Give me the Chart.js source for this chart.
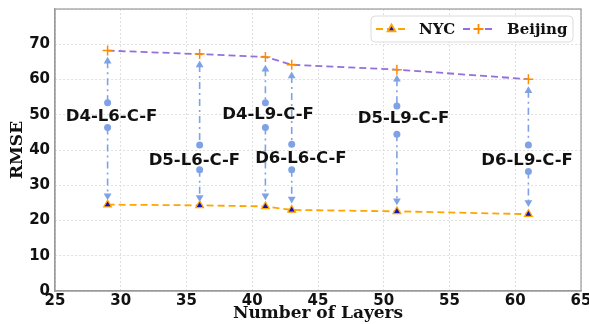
<!DOCTYPE html>
<html>
<head>
<meta charset="utf-8">
<script src="https://cdn.jsdelivr.net/npm/chart.js@4/dist/chart.umd.min.js"></script>
<style>
  html, body { margin: 0; padding: 0; background: #fff; }
  #wrap { width: 589px; height: 324px; }
</style>
</head>
<body>
<div id="wrap"><canvas id="chart"></canvas></div>
<script>
// layer counts on the x axis
const layers = [29, 36, 41, 43, 51, 61]
const nycRmse = [24.5, 24.3, 24.0, 23.0, 22.6, 21.8]
const beijingRmse = [68.2, 67.2, 66.4, 64.2, 62.8, 60.1]

// model annotations, one per layer count
const annotLabels = ['D4-L6-C-F', 'D5-L6-C-F', 'D4-L9-C-F', 'D6-L6-C-F', 'D5-L9-C-F', 'D6-L9-C-F']
const labelX = [29.3, 35.6, 41.2, 43.7, 51.5, 60.9]
const labelY = [49.4, 37.1, 49.9, 37.6, 48.9, 37.1]
const arrowTop = [65.2, 64.1, 62.9, 61.0, 60.1, 56.8]
const circleTop = [53.4, 41.4, 53.4, 41.6, 52.5, 41.4]
const circleBottom = [46.4, 34.4, 46.4, 34.4, 44.5, 33.9]
const arrowBottom = [27.0, 26.5, 27.0, 26.1, 25.6, 25.1]

const xTicks = [25, 30, 35, 40, 45, 50, 55, 60, 65]
const yTicks = [0, 10, 20, 30, 40, 50, 60, 70]

const annotColor = '#7fa2e6'
const frameColor = '#9a9a9a'

const annotSets = annotLabels.map((name, i) => ({
    label: name,
    data: [
        {x: layers[i], y: arrowTop[i]},
        {x: layers[i], y: circleTop[i]},
        {x: layers[i], y: null},
        {x: layers[i], y: circleBottom[i]},
        {x: layers[i], y: arrowBottom[i]}
    ],
    borderColor: annotColor,
    backgroundColor: annotColor,
    borderWidth: 1.6,
    borderDash: [7, 4, 2, 4],
    pointStyle: ['triangle', 'circle', 'circle', 'circle', 'triangle'],
    rotation: [0, 0, 0, 0, 180],
    pointRadius: [4.5, 3.5, 0, 3.5, 4.5],
    pointBorderWidth: 0,
    spanGaps: false,
    order: 2
}))

const datasets = [
    {
        label: 'NYC',
        data: layers.map((x, i) => ({x: x, y: nycRmse[i]})),
        borderColor: '#ffa500',
        borderWidth: 1.8,
        borderDash: [7, 4],
        pointStyle: 'triangle',
        pointRadius: 4.5,
        pointBackgroundColor: '#1010c8',
        pointBorderColor: '#ffa500',
        pointBorderWidth: 1.2,
        order: 0
    },
    {
        label: 'Beijing',
        data: layers.map((x, i) => ({x: x, y: beijingRmse[i]})),
        borderColor: '#9370db',
        borderWidth: 1.8,
        borderDash: [7, 4],
        pointStyle: 'cross',
        pointRadius: 5,
        pointBorderColor: '#ff8c00',
        pointBorderWidth: 1.5,
        order: 0
    }
].concat(annotSets)

const extrasPlugin = {
    id: 'extras',
    afterDatasetsDraw(chart) {
        const ctx = chart.ctx
        const xs = chart.scales.x, ys = chart.scales.y
        ctx.save()
        ctx.font = 'bold 16.5px "DejaVu Sans"'
        ctx.fillStyle = '#111'
        ctx.textAlign = 'center'
        ctx.textBaseline = 'middle'
        annotLabels.forEach((t, i) => {
            ctx.fillText(t, xs.getPixelForValue(labelX[i]), ys.getPixelForValue(labelY[i]))
        })
        ctx.restore()
    },
    afterDraw(chart) {
        const ctx = chart.ctx
        const a = chart.chartArea
        ctx.save()
        ctx.strokeStyle = frameColor
        ctx.lineWidth = 1.2
        ctx.strokeRect(a.left, a.top, a.right - a.left, a.bottom - a.top)

        // legend box
        const bx = 371, by = 16, bw = 202, bh = 26
        ctx.fillStyle = 'rgba(255,255,255,0.85)'
        ctx.strokeStyle = '#dcdcdc'
        ctx.lineWidth = 1
        ctx.beginPath()
        ctx.roundRect(bx, by, bw, bh, 4)
        ctx.fill()
        ctx.stroke()

        const items = [
            {ds: chart.data.datasets[0], x0: 376, tx: 419},
            {ds: chart.data.datasets[1], x0: 463, tx: 507}
        ]
        const cy = by + bh / 2
        items.forEach(it => {
            ctx.save()
            ctx.strokeStyle = it.ds.borderColor
            ctx.lineWidth = it.ds.borderWidth
            ctx.setLineDash([7, 4])
            ctx.beginPath()
            ctx.moveTo(it.x0, cy)
            ctx.lineTo(it.x0 + 31, cy)
            ctx.stroke()
            ctx.setLineDash([])
            ctx.fillStyle = it.ds.pointBackgroundColor || it.ds.pointBorderColor
            ctx.strokeStyle = it.ds.pointBorderColor
            Chart.helpers.drawPoint(ctx, {
                pointStyle: it.ds.pointStyle,
                radius: it.ds.pointRadius,
                rotation: 0,
                borderWidth: it.ds.pointBorderWidth
            }, it.x0 + 15.5, cy)
            ctx.restore()
            ctx.fillStyle = '#111'
            ctx.font = 'bold 15px "DejaVu Serif"'
            ctx.textBaseline = 'middle'
            ctx.textAlign = 'left'
            ctx.fillText(it.ds.label, it.tx, cy + 1)
        })
        ctx.restore()
    }
}

new Chart(document.getElementById('chart'), {
    type: 'line',
    data: {datasets: datasets},
    options: {
        responsive: true,
        maintainAspectRatio: false,
        animation: false,
        layout: {padding: {top: 9, right: 8, left: 0, bottom: 0}},
        plugins: {
            legend: {display: false},
            tooltip: {enabled: false}
        },
        scales: {
            x: {
                type: 'linear',
                min: 25,
                max: 65,
                afterBuildTicks: s => { s.ticks = xTicks.map(v => ({value: v})) },
                afterFit: s => { s.height = 33; s.paddingLeft = 0; s.paddingRight = 0 },
                grid: {color: '#dedede', lineWidth: 1, drawTicks: false},
                border: {color: frameColor, width: 1.2, dash: [2, 2]},
                ticks: {
                    padding: 1,
                    color: '#111',
                    font: {family: 'DejaVu Sans', size: 15, weight: 'bold'}
                },
                title: {
                    display: true,
                    text: 'Number of Layers',
                    color: '#111',
                    padding: {top: 0, bottom: 0},
                    font: {family: 'DejaVu Serif', size: 17, weight: 'bold'}
                }
            },
            y: {
                min: 0,
                max: 80,
                afterBuildTicks: s => { s.ticks = yTicks.concat([80]).map(v => ({value: v})) },
                afterFit: s => { s.width = 55; s.paddingTop = 0; s.paddingBottom = 0 },
                grid: {color: '#dedede', lineWidth: 1, drawTicks: false},
                border: {color: frameColor, width: 1.2, dash: [2, 2]},
                ticks: {
                    padding: 5,
                    color: '#111',
                    callback: v => (yTicks.includes(v) ? v : ''),
                    font: {family: 'DejaVu Sans', size: 15, weight: 'bold'}
                },
                title: {
                    display: true,
                    text: 'RMSE',
                    color: '#111',
                    padding: {top: 7, bottom: 0},
                    font: {family: 'DejaVu Serif', size: 17, weight: 'bold'}
                }
            }
        }
    },
    plugins: [extrasPlugin]
})
</script>
</body>
</html>
